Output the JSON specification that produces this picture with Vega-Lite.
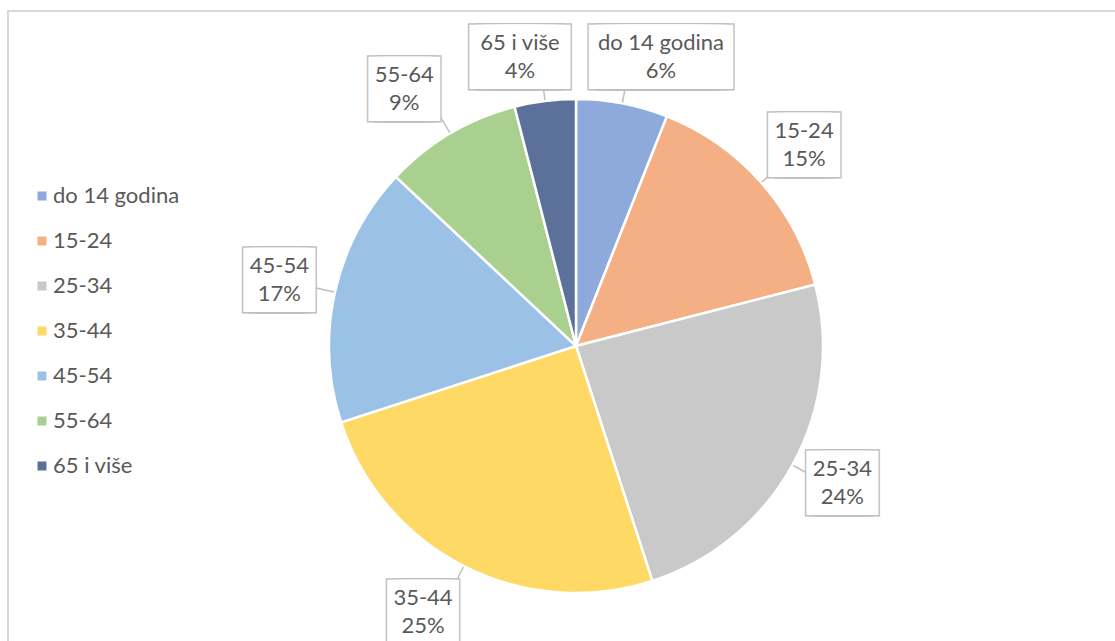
{
  "$schema": "https://vega.github.io/schema/vega-lite/v6.json",
  "width": 1136,
  "height": 670,
  "autosize": "none",
  "padding": {"left": 8, "top": 11, "right": -29, "bottom": -40},
  "background": "white",
  "view": {"stroke": "#d9d9d9", "strokeWidth": 2, "fill": "white"},
  "config": {"view": {"stroke": "#d9d9d9", "strokeWidth": 2}, "font": "Lato"},
  "data": {"values": [
    {"i": 1, "cat": "do 14 godina", "share": 0.06},
    {"i": 2, "cat": "15-24", "share": 0.15},
    {"i": 3, "cat": "25-34", "share": 0.24},
    {"i": 4, "cat": "35-44", "share": 0.25},
    {"i": 5, "cat": "45-54", "share": 0.17},
    {"i": 6, "cat": "55-64", "share": 0.09},
    {"i": 7, "cat": "65 i više", "share": 0.04}
  ]},
  "encoding": {
    "theta": {"field": "share", "type": "quantitative", "stack": true},
    "order": {"field": "i", "type": "quantitative"}
  },
  "layer": [
    {
      "mark": {"type": "arc", "outerRadius": 247, "stroke": "white", "strokeWidth": 2.5},
      "encoding": {
        "color": {
          "field": "cat", "type": "nominal",
          "scale": {
            "domain": ["do 14 godina", "15-24", "25-34", "35-44", "45-54", "55-64", "65 i više"],
            "range": ["#8EA9DB", "#F4B084", "#C9C9C9", "#FFD966", "#9BC2E6", "#A9D08E", "#5C7199"]
          },
          "legend": {
            "orient": "none", "legendX": 23, "legendY": 174, "title": null,
            "symbolType": "square", "symbolSize": 81, "symbolStrokeWidth": 0,
            "labelFont": "Lato", "labelFontSize": 22, "labelColor": "#595959",
            "rowPadding": 23, "labelOffset": 0, "labelLimit": 300
          }
        }
      }
    },
    {
      "mark": {"type": "arc", "outerRadius": 282, "innerRadius": 248, "padAngle": 3, "filled": false, "stroke": "#bfbfbf", "strokeWidth": 1.5}
    },
    {
      "mark": {"type": "text", "radius": 304, "font": "DejaVu Sans Mono", "fontSize": 12, "align": "center", "baseline": "middle",
        "fill": "#bfbfbf", "stroke": "#bfbfbf", "strokeWidth": 53, "strokeJoin": "miter",
        "dx": {"expr": "datum.cat === 'do 14 godina' ? 28 : datum.cat === '65 i više' ? -18 : datum.cat === '35-44' ? -15 : datum.cat === '55-64' ? -17 : 0"},
        "dy": {"expr": "datum.cat === 'do 14 godina' ? 10 : datum.cat === '65 i više' ? 13 : datum.cat === '25-34' ? -9 : datum.cat === '55-64' ? 5 : datum.cat === '35-44' ? -5 : 0"}},
      "encoding": {
        "text": {"condition": [
          {"test": "datum.cat === 'do 14 godina'", "value": "█████████████"},
          {"test": "datum.cat === '65 i više'", "value": "███████"}
        ], "value": "███"}
      }
    },
    {
      "mark": {"type": "text", "radius": 304, "font": "DejaVu Sans Mono", "fontSize": 12, "align": "center", "baseline": "middle",
        "fill": "white", "stroke": "white", "strokeWidth": 50, "strokeJoin": "miter",
        "dx": {"expr": "datum.cat === 'do 14 godina' ? 28 : datum.cat === '65 i više' ? -18 : datum.cat === '35-44' ? -15 : datum.cat === '55-64' ? -17 : 0"},
        "dy": {"expr": "datum.cat === 'do 14 godina' ? 10 : datum.cat === '65 i više' ? 13 : datum.cat === '25-34' ? -9 : datum.cat === '55-64' ? 5 : datum.cat === '35-44' ? -5 : 0"}},
      "encoding": {
        "text": {"condition": [
          {"test": "datum.cat === 'do 14 godina'", "value": "█████████████"},
          {"test": "datum.cat === '65 i više'", "value": "███████"}
        ], "value": "███"}
      }
    },
    {
      "mark": {"type": "text", "radius": 304, "font": "Lato", "fontSize": 22, "align": "center", "baseline": "middle", "color": "#595959",
        "dx": {"expr": "datum.cat === 'do 14 godina' ? 28 : datum.cat === '65 i više' ? -18 : datum.cat === '35-44' ? -15 : datum.cat === '55-64' ? -17 : 0"},
        "dy": {"expr": "-14 + (datum.cat === 'do 14 godina' ? 10 : datum.cat === '65 i više' ? 13 : datum.cat === '25-34' ? -9 : datum.cat === '55-64' ? 5 : datum.cat === '35-44' ? -5 : 0)"}},
      "encoding": {"text": {"field": "cat", "type": "nominal"}}
    },
    {
      "mark": {"type": "text", "radius": 304, "font": "Lato", "fontSize": 22, "align": "center", "baseline": "middle", "color": "#595959",
        "dx": {"expr": "datum.cat === 'do 14 godina' ? 28 : datum.cat === '65 i više' ? -18 : datum.cat === '35-44' ? -15 : datum.cat === '55-64' ? -17 : 0"},
        "dy": {"expr": "14 + (datum.cat === 'do 14 godina' ? 10 : datum.cat === '65 i više' ? 13 : datum.cat === '25-34' ? -9 : datum.cat === '55-64' ? 5 : datum.cat === '35-44' ? -5 : 0)"}},
      "encoding": {"text": {"field": "share", "type": "quantitative", "format": ".0%"}}
    }
  ]
}
